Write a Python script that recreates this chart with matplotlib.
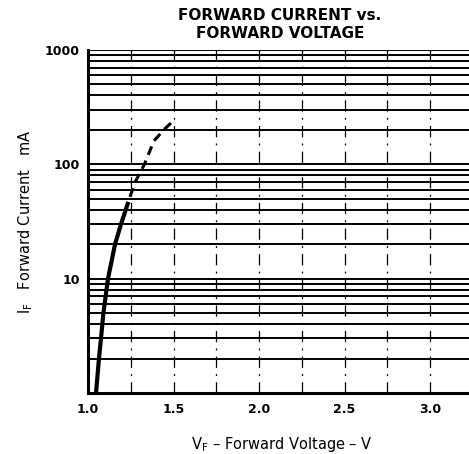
import matplotlib
matplotlib.use("Agg")
import matplotlib.pyplot as plt
from matplotlib.ticker import FixedLocator, NullFormatter

# Data
v_solid = [1.047, 1.064, 1.076, 1.090, 1.117, 1.158, 1.193, 1.236]
i_solid = [1.0, 2.0, 3.0, 5.0, 10.0, 20.0, 30.0, 47.0]
v_dash = [1.245, 1.28, 1.330, 1.385, 1.45, 1.495]
i_dash = [52.0, 72.0, 100.0, 160.0, 205.0, 237.0]

x_ticks = [1.0, 1.5, 2.0, 2.5, 3.0]
x_tick_labels = ["1.0", "1.5", "2.0", "2.5", "3.0"]
y_ticks = [10, 100, 1000]
y_tick_labels = ["10", "100", "1000"]
v_grid = [1.25, 1.5, 1.75, 2.0, 2.25, 2.5, 2.75, 3.0]
i_grid = [m * d for d in (1, 10, 100) for m in range(2, 10)] + [10, 100, 1000]

fig = plt.figure(figsize=(4.69, 4.54), dpi=100)
ax = fig.add_axes([88/469, 1-393/454, 1-88/469, (393-50)/454])
ax.set_yscale("log")
ax.set_xlim(1.0, 1.0 + 381/171)
ax.set_ylim(1, 1000)

for val in i_grid:
    ax.axhline(val, color="black", lw=1.4, zorder=1)
for val in v_grid:
    ax.axvline(val, color="black", lw=0.9, ls=(0, (9, 5, 1.5, 5)), zorder=1)

ax.plot(v_solid, i_solid, color="black", lw=3, solid_capstyle="butt",
        solid_joinstyle="round", zorder=3)
ax.plot(v_dash, i_dash, color="black", lw=2.2, ls=(0, (3, 2)), zorder=3)

ax.xaxis.set_major_locator(FixedLocator(x_ticks))
ax.set_xticklabels(x_tick_labels)
ax.yaxis.set_major_locator(FixedLocator(y_ticks))
ax.set_yticklabels(y_tick_labels)
ax.yaxis.set_minor_formatter(NullFormatter())
ax.tick_params(axis="both", which="both", length=0, labelsize=9)
ax.tick_params(axis="x", pad=7)
ax.tick_params(axis="y", pad=6)
for lab in ax.get_xticklabels() + ax.get_yticklabels():
    lab.set_fontweight("bold")

for s in ("top", "right"):
    ax.spines[s].set_visible(False)
ax.spines["left"].set_linewidth(2.2)
ax.spines["bottom"].set_linewidth(2.2)

fig.text(0.597, 1-16/454, "FORWARD CURRENT vs.", ha="center", va="center",
         fontsize=11, fontweight="bold")
fig.text(0.597, 1-34/454, "FORWARD VOLTAGE", ha="center", va="center",
         fontsize=11, fontweight="bold")
fig.text(282/469, 1-444/454, r"V$_\mathregular{F}$ – Forward Voltage – V",
         ha="center", va="center", fontsize=10.5)
fig.text(26/469, 1-222/454, r"I$_\mathregular{F}$   Forward Current   mA",
         ha="center", va="center", rotation=90, fontsize=10.5)

fig.savefig("out.png", dpi=100)
